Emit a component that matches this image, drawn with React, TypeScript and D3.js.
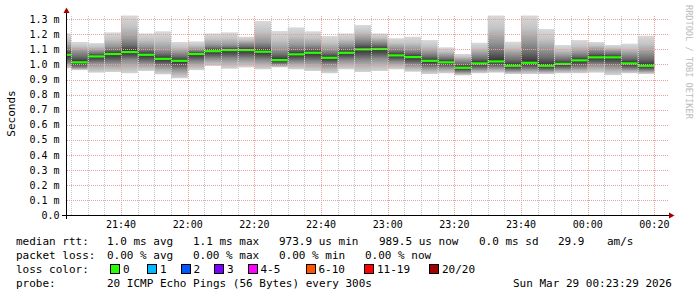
import React from 'react';
import * as d3 from 'd3';

// ---- data ----
const tStart = new Date(Date.UTC(2026, 2, 28, 21, 23, 29));
const tEnd = new Date(Date.UTC(2026, 2, 29, 0, 23, 29));
// each value is the end time of a 5-minute (300 s) step
const stepEnds = d3.range(36).map((i) => new Date(Date.UTC(2026, 2, 28, 21, 25) + i * 300000));
const stepSeconds = 300;

const medianRtt = [
  1.065, 1.015, 1.054, 1.07, 1.083, 1.065, 1.038, 1.025, 1.07, 1.089, 1.096, 1.096,
  1.085, 1.03, 1.068, 1.078, 1.045, 1.078, 1.101, 1.103, 1.061, 1.05, 1.025, 1.015,
  0.979, 1.008, 1.021, 0.992, 1.012, 0.992, 1.005, 1.028, 1.048, 1.048, 1.008, 0.992,
];
const pingMax = [
  1.206, 1.149, 1.142, 1.213, 1.33, 1.206, 1.22, 1.149, 1.153, 1.206, 1.213, 1.184,
  1.288, 1.222, 1.246, 1.22, 1.189, 1.206, 1.262, 1.206, 1.174, 1.184, 1.162, 1.114,
  1.07, 1.144, 1.33, 1.151, 1.33, 1.235, 1.129, 1.162, 1.149, 1.129, 1.138, 1.19,
];
const pingUpper = [
  1.12, 1.09, 1.09, 1.12, 1.17, 1.12, 1.1, 1.08, 1.1, 1.13, 1.13, 1.14,
  1.15, 1.1, 1.13, 1.13, 1.1, 1.13, 1.17, 1.15, 1.11, 1.1, 1.08, 1.06,
  1.03, 1.07, 1.15, 1.07, 1.15, 1.1, 1.06, 1.08, 1.1, 1.09, 1.07, 1.08,
];
const pingLower = [
  1.01, 0.98, 1.01, 1.01, 1.03, 1.01, 0.99, 0.97, 1.02, 1.04, 1.04, 1.04,
  1.03, 1.0, 1.02, 1.02, 1.0, 1.03, 1.03, 1.04, 1.02, 1.0, 0.98, 0.98,
  0.95, 0.97, 0.98, 0.96, 0.97, 0.96, 0.97, 0.98, 1.0, 0.99, 0.97, 0.96,
];
const pingMin = [
  0.975, 0.963, 0.946, 0.95, 0.942, 0.957, 0.935, 0.909, 0.963, 0.99, 0.972, 0.981,
  0.968, 0.981, 0.968, 0.957, 0.942, 0.968, 0.95, 0.957, 0.968, 0.952, 0.937, 0.942,
  0.928, 0.942, 0.946, 0.937, 0.937, 0.937, 0.942, 0.942, 0.946, 0.93, 0.942, 0.937,
];

const yTicks = d3.range(0, 14).map((i) => i / 10);
const lossLabels = ['0', '1', '2', '3', '4-5', '6-10', '11-19', '20/20'];
const lossColors = ['#26ff00', '#00b8ff', '#0059ff', '#7e00ff', '#ff00ff', '#ff5500', '#ff0000', '#a10000'];

const statsLine1 = ['median rtt:', '1.0 ms avg', '1.1 ms max', '973.9 us min', '989.5 us now', '0.0 ms sd', '29.9', 'am/s'];
const statsLine2 = ['packet loss:', '0.00 % avg', '0.00 % max', '0.00 % min', '0.00 % now'];
const probeLine = ['probe:', '20 ICMP Echo Pings (56 Bytes) every 300s', 'Sun Mar 29 00:23:29 2026'];

// ---- layout ----
const line1X = [16, 107, 193, 279, 379, 479, 558, 607];
const line2X = [16, 107, 193, 279, 365];
const probeX = [16, 107, 513];
const legendBoxX = [110, 147, 180.5, 214, 247.5, 305.5, 364, 429];

const MONO = '"DejaVu Sans Mono", monospace';

export default function App() {
  const x = d3.scaleUtc().domain([tStart, tEnd]).range([66, 666]);
  const y = d3.scaleLinear().domain([0, 1.3245]).range([215.5, 15.5]);
  const fmt = d3.utcFormat('%H:%M');

  const minorTicks = d3.utcMinute.every(5)!.range(tStart, tEnd);
  const majorTicks = d3.utcMinute.every(20)!.range(tStart, tEnd);
  const isMajor = (d: Date) => d.getUTCMinutes() % 20 === 0;

  const plotTop = 15.5;
  const plotRight = 669;

  const bars = stepEnds.map((t, i) => {
    const x0 = Math.max(x(new Date(+t - stepSeconds * 1000)), x(tStart));
    const x1 = x(t);
    const yTop = y(pingMax[i]);
    const yBot = y(pingMin[i]);
    const span = yBot - yTop;
    const off = (v: number) => Math.min(1, Math.max(0, (y(v) - yTop) / span));
    return { i, x0, x1, yTop, yBot, oU: off(pingUpper[i]), oM: off(medianRtt[i]), oL: off(pingLower[i]), ym: y(medianRtt[i]) };
  });

  return (
    <svg width={697} height={297} style={{ position: 'fixed', left: 0, top: 0, background: '#fff' }}>
      <defs>
        <clipPath id="plotClip">
          <rect x={66} y={plotTop} width={plotRight - 66} height={215.5 - plotTop} />
        </clipPath>
        {bars.map((b) => (
          <linearGradient key={b.i} id={`smoke${b.i}`} gradientUnits="userSpaceOnUse" x1={0} x2={0} y1={b.yTop} y2={b.yBot}>
            <stop offset={0} stopColor="#dadada" />
            <stop offset={b.oU * 0.5} stopColor="#c4c4c4" />
            <stop offset={b.oU} stopColor="#979797" />
            <stop offset={(b.oU + b.oM) / 2} stopColor="#6e6e6e" />
            <stop offset={b.oM} stopColor="#303030" />
            <stop offset={(b.oM + b.oL) / 2} stopColor="#5a5a5a" />
            <stop offset={b.oL} stopColor="#8c8c8c" />
            <stop offset={b.oL + (1 - b.oL) * 0.5} stopColor="#b4b4b4" />
            <stop offset={1} stopColor="#d4d4d4" />
          </linearGradient>
        ))}
      </defs>
      <rect x={0} y={0} width={697} height={297} fill="#ffffff" />

      {/* smoke */}
      <g clipPath="url(#plotClip)">
        {bars.map((b) => (
          <rect key={b.i} x={b.x0} y={b.yTop} width={b.x1 - b.x0} height={b.yBot - b.yTop} fill={`url(#smoke${b.i})`} />
        ))}
        {bars.map((b) => (
          <rect key={'m' + b.i} x={b.x0} y={b.ym - 1} width={b.x1 - b.x0} height={2.2} fill={lossColors[0]} />
        ))}
      </g>

      {/* grid */}
      <g shapeRendering="crispEdges">
        {minorTicks.filter((t) => !isMajor(t)).map((t) => (
          <line key={+t} x1={Math.round(x(t)) + 0.5} x2={Math.round(x(t)) + 0.5} y1={plotTop} y2={215} stroke="#c8c8c8" strokeDasharray="1,1" />
        ))}
        {majorTicks.map((t) => (
          <line key={'M' + +t} x1={Math.round(x(t)) + 0.5} x2={Math.round(x(t)) + 0.5} y1={plotTop} y2={215} stroke="#e6a0a0" strokeDasharray="1,1" />
        ))}
        {yTicks.filter((v) => v > 0).map((v) => (
          <line key={v} x1={67} x2={plotRight} y1={Math.round(y(v)) + 0.5} y2={Math.round(y(v)) + 0.5} stroke="#e6a0a0" strokeDasharray="1,1" />
        ))}
      </g>

      {/* axes */}
      <g shapeRendering="crispEdges">
        <line x1={66.5} x2={66.5} y1={9} y2={219} stroke="#000" />
        <line x1={62} x2={670} y1={215.5} y2={215.5} stroke="#000" />
      </g>
      <polygon points="63.5,13 69.5,13 66.5,7.5" fill="#a00000" />
      <polygon points="669,212.5 669,218.5 674.5,215.5" fill="#a00000" />

      {/* y tick labels */}
      {yTicks.map((v) => (
        <text key={v} x={59.5} y={y(v)} dy="0.35em" textAnchor="end" fontFamily={MONO} fontSize={10} fill="#000">
          {v === 0 ? '0.0' : `${v.toFixed(1)} m`}
        </text>
      ))}
      {/* x tick labels */}
      {majorTicks.map((t) => (
        <text key={+t} x={x(t)} y={228} textAnchor="middle" fontFamily={MONO} fontSize={10} fill="#000">
          {fmt(t)}
        </text>
      ))}

      {/* axis title */}
      <text transform="translate(14.5,113.5) rotate(-90)" textAnchor="middle" fontFamily={MONO} fontSize={11} fill="#000">
        Seconds
      </text>

      {/* watermark */}
      <text transform="translate(685.5,5) rotate(90)" fontFamily={MONO} fontSize={8.6} fill="#bcbcbc">
        RRDTOOL / TOBI OETIKER
      </text>

      {/* legend */}
      <g fontFamily={MONO} fontSize={11} fill="#000">
        {statsLine1.map((s, i) => (
          <text key={i} x={line1X[i]} y={245} xmlSpace="preserve">{s}</text>
        ))}
        {statsLine2.map((s, i) => (
          <text key={i} x={line2X[i]} y={259} xmlSpace="preserve">{s}</text>
        ))}
        <text x={16} y={273}>loss color:</text>
        {lossLabels.map((l, i) => (
          <g key={l}>
            <rect x={legendBoxX[i] + 0.5} y={264.5} width={9} height={9} fill={lossColors[i]} stroke="#000" shapeRendering="crispEdges" />
            <text x={legendBoxX[i] + 13} y={273}>{l}</text>
          </g>
        ))}
        {probeLine.map((s, i) => (
          <text key={i} x={probeX[i]} y={287} xmlSpace="preserve">{s}</text>
        ))}
      </g>
    </svg>
  );
}
